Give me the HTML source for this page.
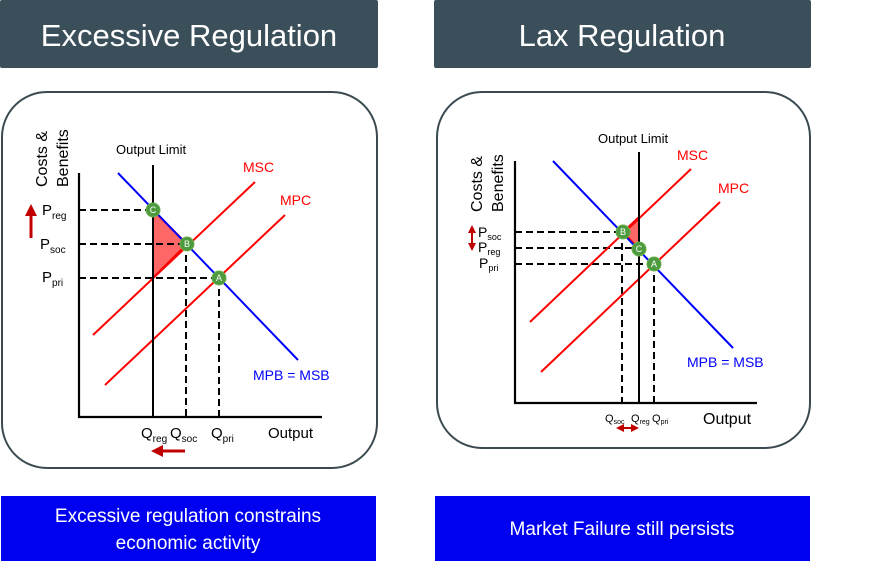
<!DOCTYPE html>
<html><head><meta charset="utf-8"><style>
body{margin:0;width:896px;height:569px;background:#fff;overflow:hidden;}
svg{display:block}
</style></head><body>
<svg width="896" height="569" xmlns="http://www.w3.org/2000/svg" font-family="Liberation Sans, Arial, sans-serif">
<defs>
<marker id="ah" markerWidth="4" markerHeight="4" refX="2" refY="2" orient="auto"><path d="M0,0L4,2L0,4z" fill="#c00000"/></marker>
<marker id="ahs" markerWidth="4" markerHeight="4" refX="2" refY="2" orient="auto-start-reverse"><path d="M0,0L4,2L0,4z" fill="#c00000"/></marker>
</defs>
<rect x="0" y="0" width="378" height="68" rx="2" fill="#3b4f5b"/>
<text x="189" y="46" font-size="31" fill="#fff" text-anchor="middle">Excessive Regulation</text>
<rect x="434" y="0" width="377" height="68" rx="2" fill="#3b4f5b"/>
<text x="622" y="46" font-size="31" fill="#fff" text-anchor="middle">Lax Regulation</text>
<rect x="2" y="92" width="375" height="376" rx="45" fill="#fff" stroke="#3a4a50" stroke-width="2"/>
<rect x="437" y="92" width="373" height="356" rx="45" fill="#fff" stroke="#3a4a50" stroke-width="2"/>

<!-- LEFT CHART -->
<polygon points="153,210 187,244 153,278" fill="#f66" stroke="#f00" stroke-width="2"/>
<g stroke="#000" stroke-width="2" stroke-dasharray="7,4" fill="none">
<line x1="79" y1="210" x2="153" y2="210"/>
<line x1="79" y1="244" x2="187" y2="244"/>
<line x1="79" y1="278" x2="219" y2="278"/>
<line x1="186" y1="244" x2="186" y2="417"/>
<line x1="219" y1="278" x2="219" y2="417"/>
</g>
<line x1="118" y1="173" x2="298" y2="360" stroke="#00f" stroke-width="2"/>
<line x1="93" y1="335" x2="255" y2="182" stroke="#f00" stroke-width="2"/>
<line x1="105" y1="385" x2="285" y2="215" stroke="#f00" stroke-width="2"/>
<line x1="153" y1="165" x2="153" y2="417" stroke="#000" stroke-width="2"/>
<polyline points="79,173 79,417 322,417" fill="none" stroke="#000" stroke-width="2.2"/>
<g fill="#4e9a3e" stroke="#6ab04c"><circle cx="153" cy="210" r="7"/><circle cx="187" cy="244" r="7"/><circle cx="219" cy="278" r="7"/></g>
<g fill="#fff" font-size="9" text-anchor="middle"><text x="153" y="213">C</text><text x="187" y="247">B</text><text x="219" y="281">A</text></g>
<text x="116" y="154" font-size="13">Output Limit</text>
<text x="243" y="172" font-size="14" fill="#f00">MSC</text>
<text x="280" y="205" font-size="14" fill="#f00">MPC</text>
<text x="253" y="380" font-size="14" fill="#00f">MPB = MSB</text>
<text transform="translate(47,187) rotate(-90)" font-size="16">Costs &amp;</text>
<text transform="translate(68,187) rotate(-90)" font-size="16">Benefits</text>
<g font-size="15"><text x="42" y="215">P<tspan font-size="10" dy="4">reg</tspan></text>
<text x="40" y="249">P<tspan font-size="10" dy="4">soc</tspan></text>
<text x="42" y="282">P<tspan font-size="10" dy="4">pri</tspan></text>
<text x="141" y="438">Q<tspan font-size="10" dy="4">reg</tspan></text>
<text x="170" y="438">Q<tspan font-size="10" dy="4">soc</tspan></text>
<text x="211" y="438">Q<tspan font-size="10" dy="4">pri</tspan></text>
<text x="268" y="438">Output</text></g>
<line x1="31" y1="238" x2="31" y2="210" stroke="#c00000" stroke-width="3" marker-end="url(#ah)"/>
<line x1="185" y1="451" x2="157" y2="451" stroke="#c00000" stroke-width="3" marker-end="url(#ah)"/>

<!-- RIGHT CHART -->
<polygon points="623,232 639,217 639,249" fill="#f66" stroke="#f00" stroke-width="2"/>
<g stroke="#000" stroke-width="2" stroke-dasharray="7,4" fill="none">
<line x1="515" y1="232" x2="623" y2="232"/>
<line x1="515" y1="248" x2="639" y2="248"/>
<line x1="515" y1="264" x2="654" y2="264"/>
<line x1="622" y1="232" x2="622" y2="403"/>
<line x1="654" y1="264" x2="654" y2="403"/>
</g>
<line x1="553" y1="161" x2="733" y2="348" stroke="#00f" stroke-width="2"/>
<line x1="530" y1="322" x2="691" y2="169" stroke="#f00" stroke-width="2"/>
<line x1="541" y1="372" x2="720" y2="202" stroke="#f00" stroke-width="2"/>
<line x1="639" y1="152" x2="639" y2="403" stroke="#000" stroke-width="2"/>
<polyline points="515,161 515,403 757,403" fill="none" stroke="#000" stroke-width="2.2"/>
<g fill="#4e9a3e" stroke="#6ab04c"><circle cx="623" cy="232" r="7"/><circle cx="639" cy="249" r="7"/><circle cx="654" cy="264" r="7"/></g>
<g fill="#fff" font-size="9" text-anchor="middle"><text x="623" y="235">B</text><text x="639" y="252">C</text><text x="654" y="267">A</text></g>
<text x="598" y="143" font-size="13">Output Limit</text>
<text x="677" y="160" font-size="14" fill="#f00">MSC</text>
<text x="718" y="193" font-size="14" fill="#f00">MPC</text>
<text x="687" y="367" font-size="14" fill="#00f">MPB = MSB</text>
<text transform="translate(482,212) rotate(-90)" font-size="16">Costs &amp;</text>
<text transform="translate(503,212) rotate(-90)" font-size="16">Benefits</text>
<g font-size="14"><text x="478" y="237">P<tspan font-size="9" dy="3">soc</tspan></text>
<text x="478" y="252">P<tspan font-size="9" dy="3">reg</tspan></text>
<text x="479" y="268">P<tspan font-size="9" dy="3">pri</tspan></text></g>
<g font-size="11"><text x="605" y="422">Q<tspan font-size="7" dy="2">soc</tspan></text>
<text x="631" y="422">Q<tspan font-size="7" dy="2">reg</tspan></text>
<text x="652" y="422">Q<tspan font-size="7" dy="2">pri</tspan></text></g>
<text x="703" y="424" font-size="16">Output</text>
<line x1="472" y1="229" x2="472" y2="247" stroke="#c00000" stroke-width="2" marker-start="url(#ahs)" marker-end="url(#ah)"/>
<line x1="620" y1="428" x2="635" y2="428" stroke="#c00000" stroke-width="2" marker-start="url(#ahs)" marker-end="url(#ah)"/>

<rect x="1" y="496" width="375" height="65" fill="#0000f0"/>
<text x="188" y="522" font-size="19" fill="#fff" text-anchor="middle">Excessive regulation constrains</text>
<text x="188" y="549" font-size="19" fill="#fff" text-anchor="middle">economic activity</text>
<rect x="435" y="496" width="375" height="65" fill="#0000f0"/>
<text x="622" y="535" font-size="19" fill="#fff" text-anchor="middle">Market Failure still persists</text>
</svg>
</body></html>
